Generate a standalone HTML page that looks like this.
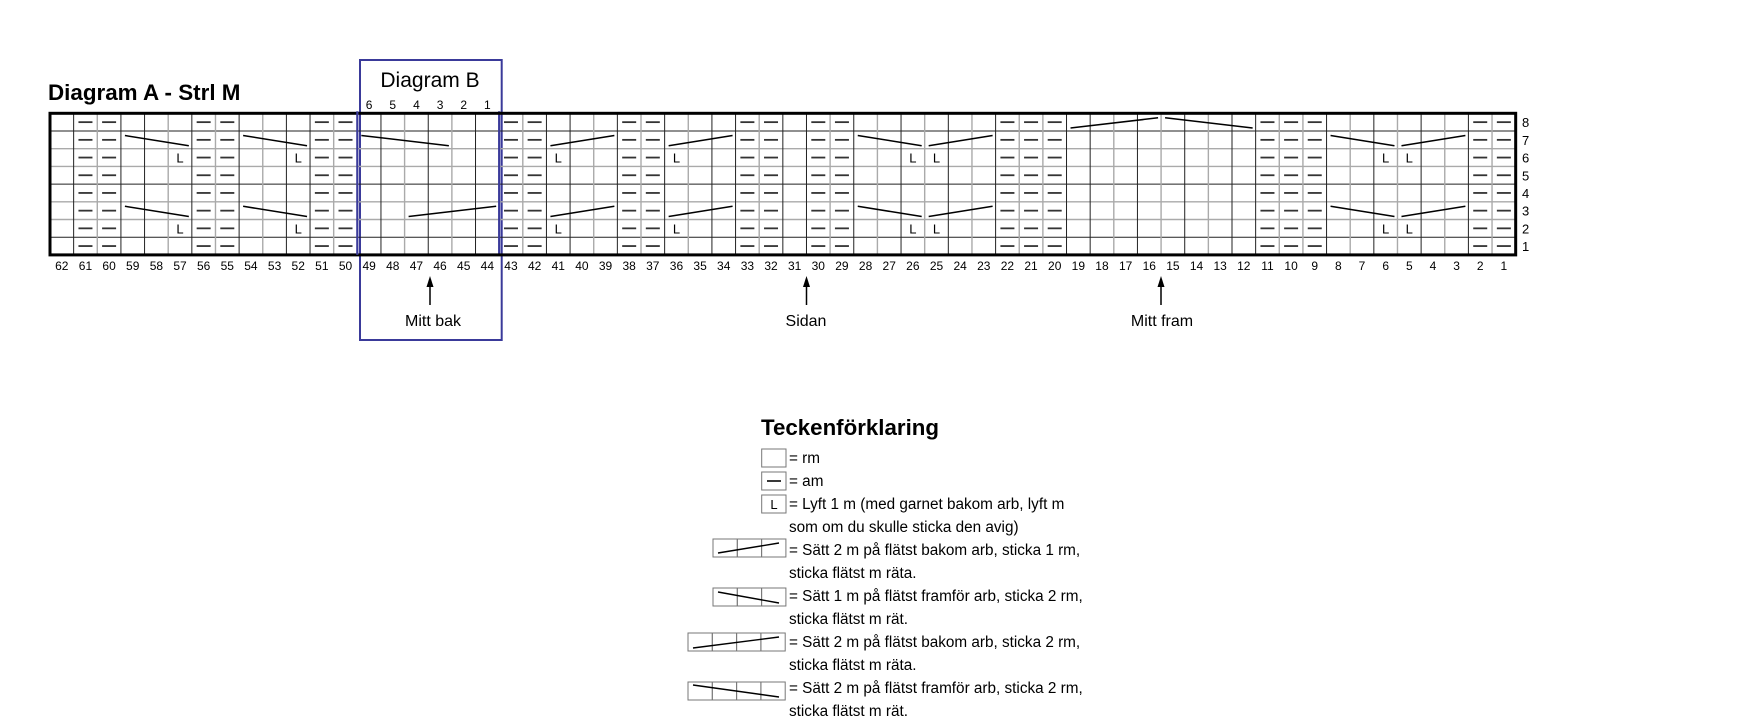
<!DOCTYPE html>
<html><head><meta charset="utf-8"><style>
html,body{margin:0;padding:0;background:#fff;}
svg{display:block;font-family:"Liberation Sans",sans-serif;}
</style></head><body>
<svg id="s" width="1749" height="726" viewBox="0 0 1749 726" xmlns="http://www.w3.org/2000/svg">
<text x="48" y="100" font-size="22.4" font-weight="bold">Diagram A - Strl M</text>
<rect x="360" y="60" width="141.7" height="280" fill="none" stroke="#3a3a9a" stroke-width="2"/>
<text x="430" y="87" font-size="21" text-anchor="middle">Diagram B</text>
<g id="g"></g>
<g stroke="#000" stroke-width="1.5">
<line x1="430" y1="305" x2="430" y2="284"/><line x1="806.5" y1="305" x2="806.5" y2="284"/><line x1="1161" y1="305" x2="1161" y2="284"/>
</g>
<g fill="#000">
<polygon points="430,276 426.5,287 433.5,287"/><polygon points="806.5,276 803,287 810,287"/><polygon points="1161,276 1157.5,287 1164.5,287"/>
</g>
<g font-size="16" text-anchor="middle">
<text x="433" y="326">Mitt bak</text><text x="806" y="326">Sidan</text><text x="1162" y="326">Mitt fram</text>
</g>
<text x="761" y="435" font-size="22.3" font-weight="bold">Teckenförklaring</text>
<g id="leg" stroke="#777" stroke-width="1" fill="none"></g>
<g font-size="15.3">
<text x="789" y="463">= rm</text>
<text x="789" y="486">= am</text>
<text x="789" y="509">= Lyft 1 m (med garnet bakom arb, lyft m</text>
<text x="789" y="532">som om du skulle sticka den avig)</text>
<text x="789" y="555">= Sätt 2 m på flätst bakom arb, sticka 1 rm,</text>
<text x="789" y="578">sticka flätst m räta.</text>
<text x="789" y="601">= Sätt 1 m på flätst framför arb, sticka 2 rm,</text>
<text x="789" y="624">sticka flätst m rät.</text>
<text x="789" y="647">= Sätt 2 m på flätst bakom arb, sticka 2 rm,</text>
<text x="789" y="670">sticka flätst m räta.</text>
<text x="789" y="693">= Sätt 2 m på flätst framför arb, sticka 2 rm,</text>
<text x="789" y="716">sticka flätst m rät.</text>
</g>
</svg>
<script>
(function(){
var NS="http://www.w3.org/2000/svg",g=document.getElementById('g');
function el(t,a,p,txt){var e=document.createElementNS(NS,t);for(var k in a)e.setAttribute(k,a[k]);if(txt!=null)e.textContent=txt;(p||g).appendChild(e);return e;}
var L=50,T=113.3,W=23.64,H=17.7;
function cx(n){return L+(62-n)*W;}
function ry(r){return T+(8-r)*H;}
for(var r=1;r<8;r++){var y=ry(r);var dark=(r==7||r==4||r==1);
 el('line',{x1:L,x2:L+62*W,y1:y,y2:y,stroke:dark?'#222':'#aaa','stroke-width':dark?1:1.4});}
var purl=[61,60,56,55,51,50,43,42,38,37,33,32,30,29,22,21,20,11,10,9,2,1];
for(var i=1;i<62;i++){var x=L+i*W;var n=62-i;
 var a=purl.indexOf(n)>=0,b=purl.indexOf(n+1)>=0;
 var dark=(a!=b)||(!a&&!b&&i%2==0);
 if(i==19){continue;}
 el('line',{x1:x,x2:x,y1:T,y2:T+8*H,stroke:dark?'#222':'#aaa','stroke-width':dark?1:1.4});}
el('line',{x1:L+19*W,x2:L+19*W,y1:T-2,y2:T+8*H,stroke:'#3a3a9a','stroke-width':2.2});
el('rect',{x:L,y:T,width:62*W,height:8*H,fill:'none',stroke:'#000','stroke-width':3});
el('line',{x1:L+13*W,x2:L+13*W,y1:T-2,y2:T+8*H,stroke:'#3a3a9a','stroke-width':2.2});
for(var r=1;r<=8;r++)purl.forEach(function(n){var x=cx(n)+W/2,y=ry(r)+H/2;
 el('line',{x1:x-7,x2:x+7,y1:y,y2:y,stroke:'#333','stroke-width':1.8});});
[2,6].forEach(function(r){[57,52,41,36,26,25,6,5].forEach(function(n){
 el('text',{x:cx(n)+W/2,y:ry(r)+H/2+5,'font-size':13,'text-anchor':'middle'},null,'L');});});
function bs(r,a,b){el('line',{x1:cx(a)+4,y1:ry(r)+4.5,x2:cx(b)+W-3,y2:ry(r)+H-3,stroke:'#000','stroke-width':1.5});}
function fs(r,a,b){el('line',{x1:cx(a)+4,y1:ry(r)+H-3,x2:cx(b)+W-3,y2:ry(r)+4.5,stroke:'#000','stroke-width':1.5});}
[3,7].forEach(function(r){bs(r,59,57);bs(r,54,52);fs(r,41,39);fs(r,36,34);bs(r,28,26);fs(r,25,23);bs(r,8,6);fs(r,5,3);});
bs(7,49,46);fs(3,47,44);fs(8,19,16);bs(8,15,12);
for(var n=62;n>=1;n--)el('text',{x:cx(n)+W/2,y:270,'font-size':12,'text-anchor':'middle'},null,String(n));
for(var r=1;r<=8;r++)el('text',{x:1522,y:ry(r)+H/2+5,'font-size':13},null,String(r));
for(var k=0;k<6;k++)el('text',{x:cx(49-k)+W/2,y:109,'font-size':12,'text-anchor':'middle'},null,String(6-k));
var lg=document.getElementById('leg'),LW=24.3;
function box(x0,y0,c){for(var i=0;i<c;i++)el('rect',{x:x0+i*LW,y:y0,width:LW,height:18},lg);}
box(761.7,449,1);box(761.7,472,1);box(761.7,495,1);
el('line',{x1:767,x2:781,y1:481,y2:481,stroke:'#222','stroke-width':1.8},lg);
el('text',{x:774,y:509,'font-size':13,'text-anchor':'middle',fill:'#000',stroke:'none'},lg,'L');
box(713,539,3);box(713,588,3);box(688,633,4);box(688,682,4);
function ln(x1,y1,x2,y2){el('line',{x1:x1,y1:y1,x2:x2,y2:y2,stroke:'#000','stroke-width':1.4},lg);}
ln(718,553,779,543);ln(718,592,779,603);ln(693,648,779,637);ln(693,685,779,697);
})();
</script>
</body></html>
